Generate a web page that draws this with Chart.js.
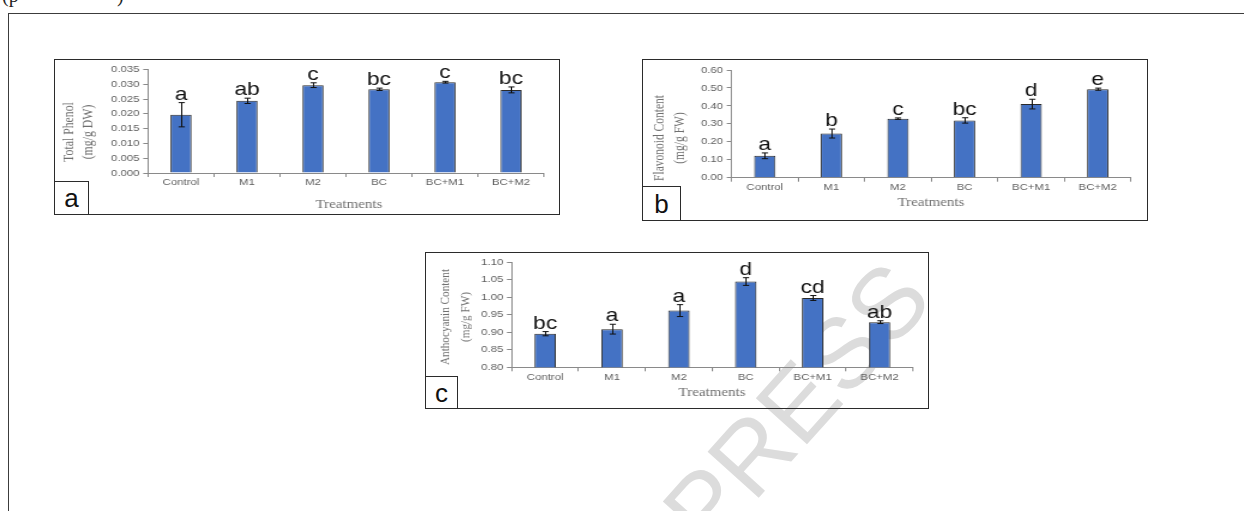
<!DOCTYPE html>
<html>
<head>
<meta charset="utf-8">
<script src="https://cdn.jsdelivr.net/npm/chart.js@4.4.1/dist/chart.umd.min.js"></script>
<style>
  html, body { margin: 0; padding: 0; background: #fff; }
  body { width: 1244px; height: 511px; overflow: hidden; position: relative; }
  canvas { position: absolute; transform-origin: 0 0; z-index: 2; }
  .frame { position: absolute; box-sizing: border-box; border: 1px solid #2b2b2b; pointer-events: none; z-index: 3; }
  .tag { position: absolute; box-sizing: border-box; border: 1px solid #2b2b2b; background: #fff; z-index: 3;
         font: 26px "Liberation Sans", Arial, sans-serif; color: #111; line-height: 1;
         display: flex; align-items: center; justify-content: center; }
  #outerTop { position: absolute; left: 8px; top: 13px; width: 1236px; height: 0; border-top: 1.5px solid #3c3c3c; }
  #outerLeft { position: absolute; left: 8px; top: 13px; width: 0; height: 498px; border-left: 1.5px solid #3c3c3c; }
  .cut { position: absolute; font: 20px "Liberation Serif", "Times New Roman", serif; line-height: 20px; color: #222; }
  #wm { position: absolute; left: 796px; top: 404px; font: 100px "Liberation Sans", Arial, sans-serif;
        line-height: 1; color: #dcdcdc; white-space: nowrap; transform: translate(-50%, -50%) rotate(-48deg);
        z-index: 1; pointer-events: none; }
</style>
</head>
<body>
<div id="outerTop"></div>
<div id="outerLeft"></div>
<div class="cut" style="left:2px; top:-15px;">(p</div>
<div class="cut" style="left:117px; top:-15px;">)</div>
<div id="wm">PRESS</div>

<script>
// ---- data ----
const treatments = ['Control', 'M1', 'M2', 'BC', 'BC+M1', 'BC+M2'];

const phenolMean    = [0.0197, 0.0244, 0.0297, 0.0283, 0.0307, 0.0281];
const phenolErr     = [0.0041, 0.0009, 0.0008, 0.0004, 0.0003, 0.0010];
const phenolLetters = ['a', 'ab', 'c', 'bc', 'c', 'bc'];
const phenolTicks   = [0, 0.005, 0.010, 0.015, 0.020, 0.025, 0.030, 0.035];

const flavMean    = [0.122, 0.246, 0.329, 0.319, 0.410, 0.493];
const flavErr     = [0.016, 0.025, 0.004, 0.015, 0.027, 0.006];
const flavLetters = ['a', 'b', 'c', 'bc', 'd', 'e'];
const flavTicks   = [0, 0.10, 0.20, 0.30, 0.40, 0.50, 0.60];

const anthoMean    = [0.896, 0.909, 0.962, 1.045, 0.998, 0.929];
const anthoErr     = [0.006, 0.014, 0.017, 0.011, 0.007, 0.004];
const anthoLetters = ['bc', 'a', 'a', 'd', 'cd', 'ab'];
const anthoTicks   = [0.80, 0.85, 0.90, 0.95, 1.00, 1.05, 1.10];

const xTitle = 'Treatments';

// ---- drawing ----
const SX = 1.2;            // horizontal stretch of each panel
const SANS = '"Liberation Sans", Arial, sans-serif';
const SERIF = '"Liberation Serif", "Times New Roman", serif';
const AXIS = '#8a8a8a';
const TICK_TEXT = '#5f5f5f';
const TITLE_TEXT = '#707070';

function panel(p) {
  const wi = Math.round(p.box.w / SX);
  const s = p.box.w / wi;
  const toX = xp => (xp - p.box.x) / s;
  const toY = yp => yp - p.box.y;

  const cv = document.createElement('canvas');
  cv.width = wi; cv.height = p.box.h;
  cv.style.left = p.box.x + 'px';
  cv.style.top = p.box.y + 'px';
  cv.style.width = wi + 'px';
  cv.style.height = p.box.h + 'px';
  cv.style.transform = 'scaleX(' + s + ')';
  document.body.appendChild(cv);

  const fr = document.createElement('div');
  fr.className = 'frame';
  Object.assign(fr.style, { left: p.box.x + 'px', top: p.box.y + 'px', width: p.box.w + 'px', height: p.box.h + 'px' });
  document.body.appendChild(fr);

  const tg = document.createElement('div');
  tg.className = 'tag';
  tg.textContent = p.tagText;
  Object.assign(tg.style, { left: p.tag.x + 'px', top: p.tag.y + 'px', width: p.tag.w + 'px', height: p.tag.h + 'px' });
  document.body.appendChild(tg);

  const yw = toX(p.plot.l);
  const xh = p.box.h - toY(p.plot.b);
  const padR = wi - toX(p.plot.r);
  const padT = toY(p.plot.t);

  const extras = {
    id: 'extras',
    afterDatasetsDraw(chart) {
      const ctx = chart.ctx;
      const ys = chart.scales.y;
      const bars = chart.getDatasetMeta(0).data;
      ctx.save();
      // error bars
      ctx.strokeStyle = '#111';
      ctx.lineWidth = 1;
      bars.forEach((b, i) => {
        const x = Math.round(b.x) + 0.5;
        const y1 = ys.getPixelForValue(p.mean[i] - p.err[i]);
        const y2 = ys.getPixelForValue(p.mean[i] + p.err[i]);
        ctx.beginPath();
        ctx.moveTo(x, y1); ctx.lineTo(x, y2);
        ctx.moveTo(x - 2.6, y1); ctx.lineTo(x + 2.6, y1);
        ctx.moveTo(x - 2.6, y2); ctx.lineTo(x + 2.6, y2);
        ctx.stroke();
      });
      // significance letters
      ctx.fillStyle = '#111';
      ctx.font = '19px ' + SANS;
      ctx.textAlign = 'center';
      ctx.textBaseline = 'alphabetic';
      bars.forEach((b, i) => {
        const y = ys.getPixelForValue(p.mean[i] + p.err[i]) - 3;
        ctx.fillText(p.letters[i], b.x, y);
      });
      // axis titles
      ctx.fillStyle = TITLE_TEXT;
      ctx.font = '12.5px ' + SERIF;
      ctx.textBaseline = 'middle';
      ctx.fillText(xTitle, toX(p.xt.x), toY(p.xt.y));
      ctx.font = p.yt.size + 'px ' + SERIF;
      p.yt.lines.forEach((ln, k) => {
        ctx.save();
        ctx.translate(toX(p.yt.xs[k]), toY(p.yt.y));
        ctx.rotate(-Math.PI / 2);
        ctx.fillText(ln, 0, 0);
        ctx.restore();
      });
      ctx.restore();
    }
  };

  new Chart(cv, {
    type: 'bar',
    data: {
      labels: treatments,
      datasets: [{
        data: p.mean,
        backgroundColor: '#4472C4',
        borderColor: '#2a2a2a',
        borderWidth: 1,
        categoryPercentage: 1,
        barPercentage: 0.32
      }]
    },
    options: {
      responsive: false,
      animation: false,
      devicePixelRatio: 1,
      layout: { padding: { left: 0, top: padT, right: padR, bottom: 0 } },
      plugins: { legend: { display: false }, tooltip: { enabled: false } },
      scales: {
        x: {
          grid: { display: true, drawOnChartArea: false, drawTicks: true, tickLength: 4, color: AXIS, offset: true },
          border: { display: true, color: AXIS, width: 1 },
          ticks: { font: { family: SANS, size: 9.5 }, color: TICK_TEXT, padding: 0, maxRotation: 0, autoSkip: false },
          afterFit(sc) { sc.height = xh; }
        },
        y: {
          min: p.ticks[0],
          max: p.ticks[p.ticks.length - 1],
          grid: { display: true, drawOnChartArea: false, drawTicks: true, tickLength: 4, color: AXIS },
          border: { display: true, color: AXIS, width: 1 },
          ticks: {
            stepSize: p.ticks[1] - p.ticks[0],
            font: { family: SANS, size: 9.5 }, color: TICK_TEXT, padding: 3,
            callback: v => Number(v).toFixed(p.dec)
          },
          afterFit(sc) { sc.width = yw; }
        }
      }
    },
    plugins: [extras]
  });
}

panel({
  box: { x: 54, y: 59, w: 506, h: 156 },
  plot: { l: 148, t: 69.5, r: 544, b: 173 },
  tag: { x: 54, y: 181, w: 35, h: 34 }, tagText: 'a',
  xt: { x: 349, y: 205 },
  yt: { lines: ['Total Phenol', '(mg/g DW)'], xs: [70, 89], y: 132, size: 11.8 },
  mean: phenolMean, err: phenolErr, letters: phenolLetters, ticks: phenolTicks, dec: 3
});

panel({
  box: { x: 642, y: 59, w: 506, h: 162 },
  plot: { l: 731.5, t: 70, r: 1131, b: 177.7 },
  tag: { x: 642, y: 186, w: 39, h: 35 }, tagText: 'b',
  xt: { x: 931, y: 203 },
  yt: { lines: ['Flavonoid Content', '(mg/g FW)'], xs: [660, 680], y: 138, size: 11.5 },
  mean: flavMean, err: flavErr, letters: flavLetters, ticks: flavTicks, dec: 2
});

panel({
  box: { x: 425, y: 252, w: 504, h: 157 },
  plot: { l: 511.7, t: 262.3, r: 913, b: 367.3 },
  tag: { x: 425, y: 376, w: 33, h: 33 }, tagText: 'c',
  xt: { x: 712, y: 393 },
  yt: { lines: ['Anthocyanin Content', '(mg/g FW)'], xs: [446, 466], y: 317, size: 11.2 },
  mean: anthoMean, err: anthoErr, letters: anthoLetters, ticks: anthoTicks, dec: 2
});
</script>
</body>
</html>
